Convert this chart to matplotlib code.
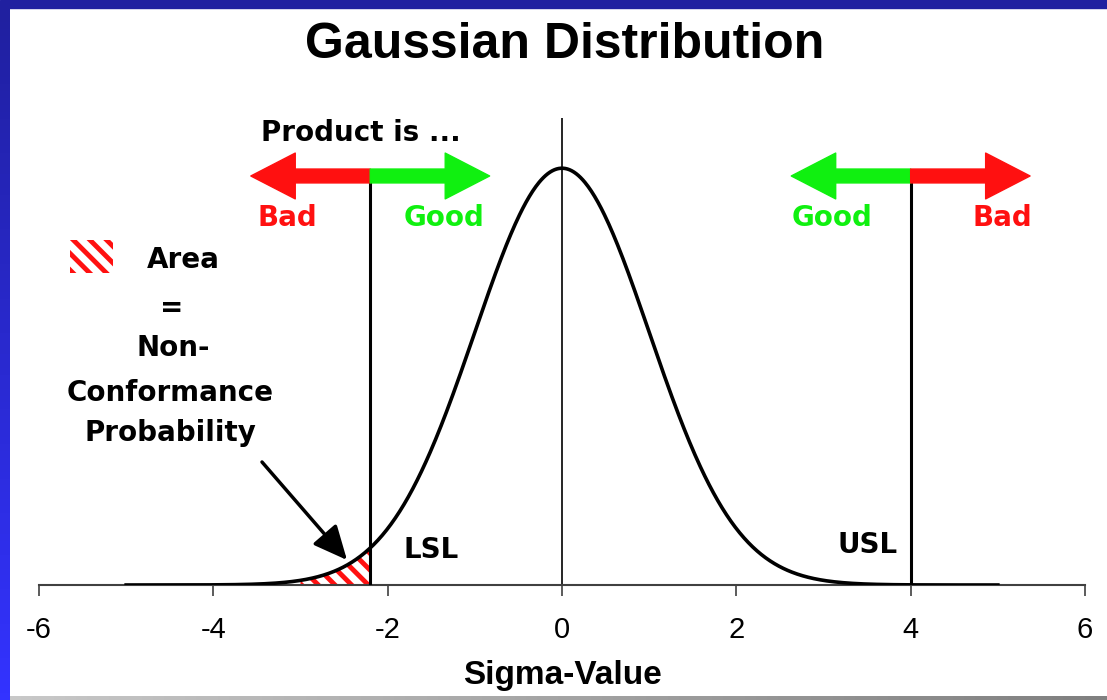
import numpy as np
import matplotlib
matplotlib.use('Agg')
import matplotlib.pyplot as plt
from matplotlib.patches import Rectangle, FancyArrowPatch
from matplotlib.colors import LinearSegmentedColormap

# data
sigma = np.linspace(-5, 5, 801)
density = np.exp(-sigma ** 2 / 2) / np.sqrt(2 * np.pi)
lsl = -2.2
usl = 4.0
hatch_start = -3.0
xticks = [-6, -4, -2, 0, 2, 4, 6]
xtick_labels = ['-6', '-4', '-2', '0', '2', '4', '6']

W, H = 1107, 700
RED = '#ff1010'
GREEN = '#10f010'
NARROW = ['Liberation Sans', 'DejaVu Sans']
BOLD = ['DejaVu Sans']

plt.rcParams['hatch.linewidth'] = 3.5
plt.rcParams['hatch.color'] = RED


def px(x, y):
    return x / W, 1 - y / H


fig = plt.figure(figsize=(W / 100, H / 100), dpi=100, facecolor='white')

# frame decoration
fig.patches.append(Rectangle((0, 1 - 8 / H), 1, 8 / H, transform=fig.transFigure,
                             color='#2020a0', zorder=0))
side = fig.add_axes([0, 0, 10 / W, 1 - 8 / H])
side.imshow(np.linspace(0, 1, 100).reshape(-1, 1), aspect='auto',
            cmap=LinearSegmentedColormap.from_list('b', ['#2020a0', '#3333ff']))
side.axis('off')
bottom = fig.add_axes([10 / W, 0, 1 - 10 / W, 4 / H])
bottom.imshow(np.linspace(0, 1, 100).reshape(1, -1), aspect='auto',
              cmap=LinearSegmentedColormap.from_list('g', ['#c8c8c8', '#808080']))
bottom.axis('off')

ax = fig.add_axes([39 / W, 115 / H, 1046 / W, 467 / H])
ax.set_xlim(-6, 6)
ax.set_ylim(0, 0.447)
ax.patch.set_alpha(0)
for s in ['top', 'left', 'right']:
    ax.spines[s].set_visible(False)
ax.spines['bottom'].set_color('#404040')
ax.spines['bottom'].set_linewidth(1.5)
ax.set_yticks([])
ax.set_xticks(xticks)
ax.set_xticklabels(xtick_labels, family=NARROW, fontsize=21)
ax.tick_params(axis='x', direction='out', length=8, width=1.2, color='#404040', pad=14)
ax.set_xlabel('Sigma-Value', family=NARROW, fontsize=24, fontweight='bold', labelpad=12)

# curve and hatch
mask = (sigma >= hatch_start) & (sigma <= lsl)
ax.fill_between(sigma[mask], 0, density[mask], facecolor='white', edgecolor=RED,
                hatch='\\\\', linewidth=0, zorder=2)
ax.plot(sigma, density, color='black', lw=2.6, zorder=3)
ax.axvline(0, color='black', lw=1.2, zorder=1)

arrow_y = 0.3915
ax.plot([lsl, lsl], [0, arrow_y], color='black', lw=2.2, zorder=3)
ax.plot([usl, usl], [0, arrow_y], color='black', lw=2.2, zorder=3)

style = 'simple,head_length=32,head_width=33,tail_width=10'
for x0, dx, c in [(lsl, -1.37, RED), (lsl, 1.37, GREEN), (usl, -1.37, GREEN), (usl, 1.37, RED)]:
    ax.add_patch(FancyArrowPatch((x0, arrow_y), (x0 + dx, arrow_y), arrowstyle=style,
                                 color=c, shrinkA=0, shrinkB=0, zorder=4))

# title and labels
fig.text(*px(565, 45), 'Gaussian Distribution', family=NARROW, fontsize=36,
         fontweight='bold', ha='center', va='center')
txt = dict(family=BOLD, fontweight='bold', fontsize=20, ha='center', va='center')
fig.text(*px(361, 133), 'Product is ...', color='black', **txt)
fig.text(*px(287, 218), 'Bad', color=RED, **txt)
fig.text(*px(444, 218), 'Good', color=GREEN, **txt)
fig.text(*px(832, 218), 'Good', color=GREEN, **txt)
fig.text(*px(1002, 218), 'Bad', color=RED, **txt)
fig.text(*px(183, 260), 'Area', color='black', **txt)
fig.text(*px(172, 308), '=', color='black', **txt)
fig.text(*px(173, 348), 'Non-', color='black', **txt)
fig.text(*px(170, 393), 'Conformance', color='black', **txt)
fig.text(*px(170, 433), 'Probability', color='black', **txt)
fig.text(*px(431, 550), 'LSL', color='black', **txt)
fig.text(*px(868, 545), 'USL', color='black', **txt)

fig.patches.append(Rectangle(px(70, 273), 43 / W, 33 / H, transform=fig.transFigure,
                             facecolor='white', edgecolor=RED, hatch='\\\\', linewidth=0))

ax.annotate('', xy=px(347, 560), xytext=px(262, 462), xycoords='figure fraction',
            textcoords='figure fraction',
            arrowprops=dict(arrowstyle='-|>,head_length=1.3,head_width=0.6', lw=2.5,
                            color='black', mutation_scale=16, shrinkA=0, shrinkB=0))

fig.savefig('out.png', dpi=100)
